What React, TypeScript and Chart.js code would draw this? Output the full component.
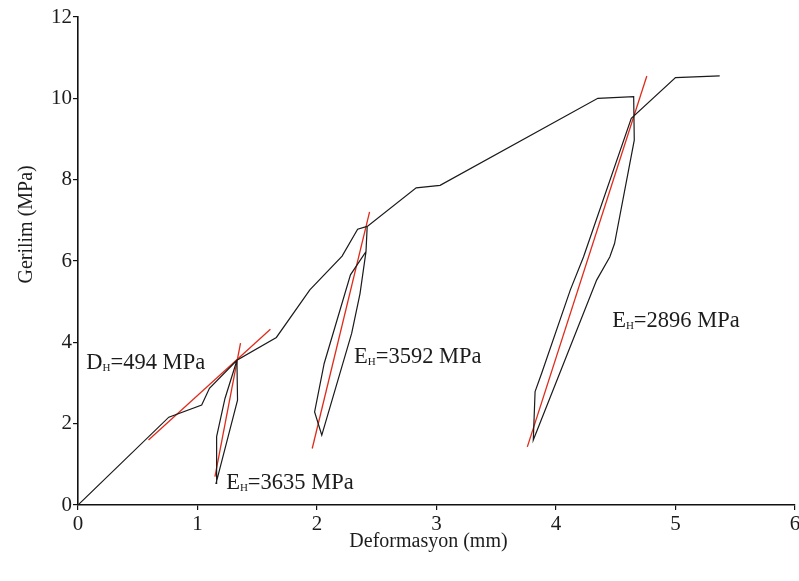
import React, { useEffect, useRef } from 'react';
import { Chart, registerables } from 'chart.js';

Chart.register(...registerables);

// Main stress–strain curve (deformation mm, stress MPa), in drawing order
const CURVE_X = [0, 0.76, 1.035, 1.1, 1.33, 1.335, 1.155, 1.16, 1.23, 1.33, 1.66, 1.94, 2.21, 2.34, 2.42, 2.41, 2.36, 2.29, 2.04, 1.98, 2.06, 2.28, 2.41, 2.42, 2.83, 3.03, 4.35, 4.65, 4.655, 4.49, 4.45, 4.34, 3.81, 3.825, 3.88, 4.12, 4.23, 4.63, 5.0, 5.37];
const CURVE_Y = [0, 2.16, 2.46, 2.87, 3.56, 2.58, 0.53, 1.68, 2.62, 3.56, 4.12, 5.29, 6.12, 6.78, 6.85, 6.23, 5.2, 4.22, 1.72, 2.29, 3.48, 5.66, 6.23, 6.85, 7.8, 7.86, 10.0, 10.04, 8.97, 6.43, 6.1, 5.53, 1.6, 2.79, 3.24, 5.29, 6.1, 9.51, 10.51, 10.55];

// Red fitted lines
const FIT_D_X = [0.59, 1.61];
const FIT_D_Y = [1.6, 4.32];
const FIT_E1_X = [1.146, 1.36];
const FIT_E1_Y = [0.7, 3.98];
const FIT_E2_X = [1.96, 2.44];
const FIT_E2_Y = [1.39, 7.21];
const FIT_E3_X = [3.76, 4.76];
const FIT_E3_Y = [1.43, 10.55];

// Annotations
const LABEL_LETTER = ['D', 'E', 'E', 'E'];
const LABEL_SUB = ['H', 'H', 'H', 'H'];
const LABEL_REST = ['=494 MPa', '=3635 MPa', '=3592 MPa', '=2896 MPa'];
const LABEL_X = [0.07, 1.24, 2.31, 4.47];
const LABEL_Y = [3.52, 0.57, 3.68, 4.55];

// Axes
const X_TICKS = [0, 1, 2, 3, 4, 5, 6];
const Y_TICKS = [0, 2, 4, 6, 8, 10, 12];
const X_TITLE = 'Deformasyon (mm)';
const Y_TITLE = 'Gerilim (MPa)';

const FONT = '"Liberation Serif", "Times New Roman", serif';
const TEXT = '#1c1c1c';
const RED = '#e02b1a';

const pts = (xs: number[], ys: number[]) => xs.map((x, i) => ({ x, y: ys[i] }));

const overlayPlugin = {
  id: 'overlay',
  afterDraw(chart: any) {
    const { ctx, scales, chartArea } = chart;
    const xs = scales.x;
    const ys = scales.y;
    ctx.save();
    ctx.fillStyle = TEXT;
    ctx.textBaseline = 'alphabetic';
    ctx.textAlign = 'left';
    for (let i = 0; i < LABEL_LETTER.length; i++) {
      let px = xs.getPixelForValue(LABEL_X[i]);
      const py = ys.getPixelForValue(LABEL_Y[i]) + 7.5;
      ctx.font = `22.5px ${FONT}`;
      ctx.fillText(LABEL_LETTER[i], px, py);
      px += ctx.measureText(LABEL_LETTER[i]).width;
      ctx.font = `11px ${FONT}`;
      ctx.fillText(LABEL_SUB[i], px, py + 2);
      px += ctx.measureText(LABEL_SUB[i]).width;
      ctx.font = `22.5px ${FONT}`;
      ctx.fillText(LABEL_REST[i], px, py);
    }
    // axis titles
    ctx.font = `20px ${FONT}`;
    ctx.textAlign = 'center';
    ctx.textBaseline = 'middle';
    ctx.fillText(X_TITLE, (chartArea.left + chartArea.right) / 2 - 8, chartArea.bottom + 37);
    ctx.translate(27, ys.getPixelForValue(6.9));
    ctx.rotate(-Math.PI / 2);
    ctx.fillText(Y_TITLE, 0, 0);
    ctx.restore();
  },
};

export default function App() {
  const ref = useRef<HTMLCanvasElement | null>(null);
  useEffect(() => {
    if (!ref.current) return;
    const lineDs = (data: any[], color: string, width: number) => ({
      data,
      showLine: true,
      borderColor: color,
      borderWidth: width,
      pointRadius: 0,
      tension: 0,
      fill: false,
    });
    const chart = new Chart(ref.current, {
      type: 'scatter',
      data: {
        datasets: [
          lineDs(pts(CURVE_X, CURVE_Y), '#1a1a1a', 1.2),
          lineDs(pts(FIT_D_X, FIT_D_Y), RED, 1.3),
          lineDs(pts(FIT_E1_X, FIT_E1_Y), RED, 1.3),
          lineDs(pts(FIT_E2_X, FIT_E2_Y), RED, 1.3),
          lineDs(pts(FIT_E3_X, FIT_E3_Y), RED, 1.3),
        ],
      },
      options: {
        animation: false,
        responsive: true,
        maintainAspectRatio: false,
        layout: { padding: { top: 17, right: 4, left: 0, bottom: 0 } },
        plugins: { legend: { display: false }, tooltip: { enabled: false } },
        scales: {
          x: {
            type: 'linear',
            min: X_TICKS[0],
            max: X_TICKS[X_TICKS.length - 1],
            afterBuildTicks: (s: any) => { s.ticks = X_TICKS.map((v) => ({ value: v })); },
            afterFit: (s: any) => { s.height = 76; s.paddingRight = 2; s.paddingLeft = 0; },
            ticks: { font: { family: FONT, size: 21 }, color: TEXT, padding: 2, maxRotation: 0 },
            grid: { drawOnChartArea: false, drawTicks: true, tickLength: 5, color: '#111', lineWidth: 1.2 },
            border: { display: true, color: '#111', width: 1.6 },
          },
          y: {
            type: 'linear',
            min: Y_TICKS[0],
            max: Y_TICKS[Y_TICKS.length - 1],
            afterBuildTicks: (s: any) => { s.ticks = Y_TICKS.map((v) => ({ value: v })); },
            afterFit: (s: any) => { s.width = 78; },
            ticks: { font: { family: FONT, size: 21 }, color: TEXT, padding: 1 },
            grid: { drawOnChartArea: false, drawTicks: true, tickLength: 5, color: '#111', lineWidth: 1.2 },
            border: { display: true, color: '#111', width: 1.6 },
          },
        },
      },
      plugins: [overlayPlugin],
    } as any);
    return () => chart.destroy();
  }, []);
  return (
    <div style={{ position: 'fixed', left: 0, top: 0, width: 799, height: 581, background: '#fff' }}>
      <canvas ref={ref} />
    </div>
  );
}
